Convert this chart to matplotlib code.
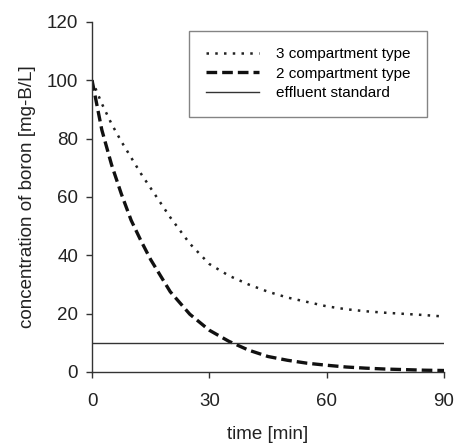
import matplotlib
matplotlib.use("Agg")
import matplotlib.pyplot as plt

plt.rcParams['font.family'] = ['Liberation Sans', 'DejaVu Sans']

# time points [min]
time_min = [0, 2.5, 5, 7.5, 10, 12.5, 15, 20, 25, 30, 35, 40, 45, 50, 55, 60, 65, 70, 75, 80, 85, 90]
# 3 compartment type
conc_3comp = [100, 92, 85, 79, 73.5, 68, 63, 53, 44, 37, 33, 30, 27.5, 25.5, 24, 22.5, 21.5, 20.8, 20.3, 19.9, 19.5, 19]
# 2 compartment type
conc_2comp = [100, 83, 71, 61, 52, 45, 38.5, 27.5, 19.8, 14.3, 10.5, 7.5, 5.3, 4.0, 3.0, 2.3, 1.7, 1.3, 1.0, 0.8, 0.6, 0.5]
effluent_standard = 10

x_ticks = [0, 30, 60, 90]
y_ticks = [0, 20, 40, 60, 80, 100, 120]

fig = plt.figure(figsize=(4.56, 4.46), dpi=100)
ax = fig.add_axes([0.2018, 0.166, 0.7719, 0.785])

ax.plot(time_min, conc_3comp, color='#222222', lw=1.8, linestyle=(0, (1, 2.5)),
        dash_capstyle='butt', label='3 compartment type')
ax.plot(time_min, conc_2comp, color='#111111', lw=2.4, linestyle=(0, (3.2, 1.5)),
        dash_capstyle='butt', label='2 compartment type')
ax.axhline(effluent_standard, color='#333333', lw=1.0, label='effluent standard')

ax.set_xlim(0, 90)
ax.set_ylim(0, 120)
ax.set_xticks(x_ticks)
ax.set_yticks(y_ticks)

for side in ['top', 'right']:
    ax.spines[side].set_visible(False)
for side in ['left', 'bottom']:
    ax.spines[side].set_color('#333333')
    ax.spines[side].set_linewidth(1.0)

ax.tick_params(axis='both', direction='out', length=4, width=1, colors='#333333',
               labelsize=13.5, labelcolor='#222222')
ax.tick_params(axis='x', pad=11)
ax.tick_params(axis='y', pad=6)

ax.set_xlabel('time [min]', fontsize=13.5, color='#222222', labelpad=12)
ax.set_ylabel('concentration of boron [mg-B/L]', fontsize=13.5, color='#222222', labelpad=8)

leg = ax.legend(loc='upper right', bbox_to_anchor=(0.953, 0.975), fontsize=11,
                frameon=True, fancybox=False, handlelength=3.5, handletextpad=1.1,
                labelspacing=0.35, borderpad=1.1, borderaxespad=0)
leg.get_frame().set_edgecolor('#666666')
leg.get_frame().set_linewidth(1.0)

fig.savefig('out.png', dpi=100)
